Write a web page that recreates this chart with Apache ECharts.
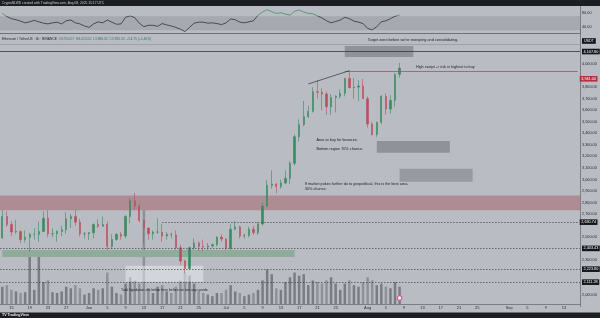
<!DOCTYPE html>
<html><head><meta charset="utf-8">
<script src="https://cdn.jsdelivr.net/npm/echarts@6/dist/echarts.min.js"></script>
<style>html,body{margin:0;padding:0;background:#b9bcc2}#c{width:600px;height:318px}</style>
</head><body><div id="c"></div><script>
// ---- data (daily candles) ----
const firstDay = [2025, 4, 13];   // 13 May 2025
const visibleDays = 127;          // time scale runs on to mid September
const open  = [2495,2680,2610,2545,2550,2480,2500,2525,2525,2550,2665,2530,2530,2550,2565,2660,2680,2630,2530,2530,2540,2610,2595,2610,2420,2480,2525,2510,2680,2815,2770,2645,2580,2530,2545,2545,2510,2525,2520,2410,2295,2230,2410,2450,2420,2415,2425,2435,2500,2485,2405,2570,2590,2510,2515,2570,2540,2615,2770,2950,2960,2940,2970,3010,3140,3370,3475,3545,3590,3760,3755,3740,3630,3710,3720,3745,3875,3795,3800,3810,3700,3480,3390,3495,3720,3610,3685,3910];
const high  = [2738,2725,2640,2650,2560,2560,2540,2580,2635,2725,2735,2575,2560,2600,2715,2700,2740,2660,2545,2545,2620,2655,2680,2635,2525,2535,2545,2690,2840,2885,2790,2650,2585,2560,2665,2615,2545,2540,2560,2435,2305,2420,2490,2465,2480,2450,2445,2510,2525,2490,2615,2640,2600,2530,2590,2600,2630,2800,2995,3080,2970,3000,3080,3160,3390,3520,3680,3640,3800,3860,3790,3760,3740,3730,3780,3880,3941,3880,3860,3870,3720,3500,3500,3730,3745,3730,3920,4010];
const low   = [2485,2590,2510,2530,2450,2455,2375,2480,2460,2545,2500,2500,2460,2510,2530,2580,2600,2505,2490,2475,2490,2580,2590,2390,2400,2470,2480,2490,2620,2740,2630,2440,2480,2480,2530,2460,2480,2490,2390,2260,2190,2220,2390,2380,2380,2390,2410,2420,2460,2390,2390,2560,2490,2490,2500,2520,2520,2600,2760,2920,2880,2920,2960,2960,3120,3330,3460,3530,3580,3700,3600,3560,3560,3580,3700,3720,3790,3700,3680,3700,3450,3380,3370,3480,3560,3570,3630,3880];
const close = [2680,2610,2545,2550,2480,2500,2525,2525,2550,2665,2530,2530,2550,2565,2660,2680,2630,2530,2530,2540,2610,2595,2610,2420,2480,2525,2510,2680,2815,2770,2645,2580,2530,2545,2545,2510,2525,2520,2410,2295,2230,2410,2450,2420,2415,2425,2435,2500,2485,2405,2570,2590,2510,2515,2570,2540,2615,2770,2950,2960,2940,2970,3010,3140,3370,3475,3545,3590,3760,3755,3740,3630,3710,3720,3745,3875,3795,3800,3810,3700,3480,3390,3495,3720,3610,3685,3910,3965];
const volume = [550,600,450,400,350,375,1600,450,1500,700,750,375,350,400,550,500,600,500,300,350,500,450,500,1000,550,350,300,650,850,750,650,3300,500,350,550,600,400,350,550,750,1000,900,650,400,350,300,250,350,350,450,600,400,350,250,300,350,450,750,1100,950,500,450,700,850,1000,900,950,600,750,700,650,750,850,650,450,650,750,600,550,700,850,750,600,650,550,500,700,550];
const rsi = [78,69,63,60,56,51,54,58,54,50,48,51,53,48,57,59,51,48,42,38,48,54,51,59,53,47,48,67,71,66,50,40,44,44,41,49,45,42,38,33,26,38,50,53,53,50,51,49,46,51,62,60,53,51,54,57,73,82,89,83,78,80,76,73,84,88,82,78,77,71,65,57,51,55,59,67,63,56,53,49,35,31,40,54,57,63,70,73];
const timeTicks = [['2025-05-15','15'],['2025-05-19','19'],['2025-05-23','23'],['2025-05-27','27'],
 ['2025-06-01','Jun'],['2025-06-05','5'],['2025-06-09','9'],['2025-06-13','13'],['2025-06-17','17'],['2025-06-21','21'],['2025-06-25','25'],
 ['2025-07-01','Jul'],['2025-07-05','5'],['2025-07-09','9'],['2025-07-13','13'],['2025-07-17','17'],['2025-07-21','21'],['2025-07-25','25'],
 ['2025-08-01','Aug'],['2025-08-05','5'],['2025-08-09','9'],['2025-08-13','13'],['2025-08-17','17'],['2025-08-21','21'],['2025-08-25','25'],
 ['2025-09-01','Sep'],['2025-09-05','5'],['2025-09-09','9'],['2025-09-13','13']];
const priceTicks = [2000,2300,2500,2700,2800,2900,3000,3100,3200,3300,3400,3500,3600,3700,3800,4000];
const rsiTicks = [80,40];
const levels = {target:4107.80, upper:4175, swept:3941.00, last:3965.32, l1:2630.74, l2:2403.43, l3:2223.80, l4:2111.28};

// ---- build ----
const dates = [];
for (let i = 0; i < visibleDays; i++) {
  const d = new Date(Date.UTC(firstDay[0], firstDay[1], firstDay[2] + i));
  dates.push(d.toISOString().slice(0, 10));
}
const tickMap = {}; timeTicks.forEach(t => tickMap[t[0]] = t[1]);
const candles = open.map((o, i) => [o, close[i], low[i], high[i]]);
const fmt = v => v.toLocaleString('en-US', {minimumFractionDigits: 2, maximumFractionDigits: 2});
const FONT = 'Liberation Sans';
const box = (txt, bg, extra) => Object.assign({show: true, position: 'end', distance: 2, formatter: txt,
  color: '#fff', backgroundColor: bg || '#141518', fontSize: 3.8, padding: [1, 1.5, 0.6, 1.5], fontFamily: FONT}, extra || {});
const dotted = {color: '#3f4247', width: 0.7, type: [1.5, 1.5]};

// RSI pane geometry (used for the overbought colouring of the line)
const rsiTop = 5.7, rsiH = 28, rsiMin = 20, rsiMax = 100;
const obStop = (rsiMax - 70) / (rsiMax - rsiMin);
const rsiColor = {type: 'linear', x: 0, y: rsiTop, x2: 0, y2: rsiTop + rsiH, global: true,
  colorStops: [{offset: 0, color: '#3b9162'}, {offset: obStop, color: '#3b9162'}, {offset: obStop, color: '#2f3236'}, {offset: 1, color: '#2f3236'}]};

const chart = echarts.init(document.getElementById('c'), null, {renderer: 'canvas', width: 600, height: 318});
const gridBase = {left: 0, right: 20, containLabel: false, outerBoundsMode: 'none'};
chart.setOption({
  animation: false,
  backgroundColor: '#b9bcc2',
  textStyle: {fontFamily: FONT},
  grid: [
    Object.assign({top: rsiTop, height: rsiH}, gridBase),
    Object.assign({top: 29.35, height: 277.2}, gridBase),
    Object.assign({top: 194, bottom: 14}, gridBase)
  ],
  xAxis: [
    {type: 'category', gridIndex: 0, data: dates, axisLine: {lineStyle: {color: '#5d6066', width: 0.8}}, axisTick: {show: false}, axisLabel: {show: false}},
    {type: 'category', gridIndex: 1, data: dates, show: false},
    {type: 'category', gridIndex: 2, data: dates, axisLine: {lineStyle: {color: '#6b6e74', width: 0.8}}, axisTick: {show: false},
     axisLabel: {interval: (i, v) => tickMap[v] !== undefined, formatter: v => tickMap[v] || '', fontSize: 4, color: '#2d2f33', margin: 1.5}}
  ],
  yAxis: [
    {type: 'value', gridIndex: 0, position: 'right', min: rsiMin, max: rsiMax, interval: 20, splitLine: {show: false},
     axisLine: {show: true, lineStyle: {color: '#6b6e74', width: 0.8}}, axisTick: {show: false},
     axisLabel: {formatter: v => rsiTicks.includes(v) ? fmt(v) : '', fontSize: 3.8, color: '#2b2d31', margin: 2}},
    {type: 'value', gridIndex: 1, position: 'right', min: 1900, max: 4300, interval: 100, splitLine: {show: false},
     axisLine: {show: true, lineStyle: {color: '#6b6e74', width: 0.8}}, axisTick: {show: false},
     axisLabel: {formatter: v => priceTicks.includes(v) ? fmt(v) : '', fontSize: 3.8, color: '#2b2d31', margin: 2}},
    {type: 'value', gridIndex: 2, min: 0, max: 3500, show: false}
  ],
  series: [
    {type: 'line', xAxisIndex: 0, yAxisIndex: 0, data: rsi, symbol: 'none', lineStyle: {width: 0.8, color: rsiColor},
     markArea: {silent: true, itemStyle: {color: '#a6a9af'}, data: [[{yAxis: 30}, {yAxis: 70}]]}},
    {type: 'candlestick', xAxisIndex: 1, yAxisIndex: 1, data: candles, z: 2, barWidth: 1.8,
     itemStyle: {color: '#3a8a62', color0: '#b8505c', borderColor: '#3a8a62', borderColor0: '#b8505c', borderWidth: 0.6},
     markArea: {silent: true, data: [
       [{yAxis: 2733, itemStyle: {color: '#ad8c94'}}, {yAxis: 2862}],
       [{xAxis: dates[0], yAxis: 2330, itemStyle: {color: '#8fac9b'}}, {xAxis: dates[64], yAxis: 2390}],
       [{xAxis: dates[75], yAxis: 4060, itemStyle: {color: '#8f9298'}}, {xAxis: dates[90], yAxis: 4155}],
       [{xAxis: dates[82], yAxis: 3231, itemStyle: {color: '#8f9298'}}, {xAxis: dates[98], yAxis: 3334}],
       [{xAxis: dates[87], yAxis: 2980, itemStyle: {color: '#989a9f'}}, {xAxis: dates[103], yAxis: 3093}],
       [{xAxis: dates[27], yAxis: 2115, itemStyle: {color: 'rgba(236,238,241,0.5)'}}, {xAxis: dates[44], yAxis: 2254}]
     ]},
     markLine: {silent: true, symbol: 'none', animation: false, data: [
       {yAxis: levels.upper, lineStyle: {color: '#8b8e94', width: 0.6, type: 'solid'}, label: {show: false}},
       {yAxis: levels.target, lineStyle: {color: '#34363a', width: 0.8, type: 'solid'}, label: box(fmt(levels.target))},
       [{coord: [dates[75], levels.swept], lineStyle: {color: '#94596a', width: 0.8, type: 'solid'},
         label: box(fmt(levels.swept), '#b3303e', {offset: [0, 8]})}, {coord: [dates[126], levels.swept]}],
       {yAxis: levels.last, lineStyle: {opacity: 0}, label: box(fmt(levels.last) + '\n02:42:53', '#141518', {lineHeight: 4.2, offset: [0, 2]})},
       [{coord: [dates[35], levels.l1], lineStyle: dotted, label: box(fmt(levels.l1))}, {coord: [dates[126], levels.l1]}],
       {yAxis: levels.l2, lineStyle: dotted, label: box(fmt(levels.l2))},
       {yAxis: levels.l3, lineStyle: dotted, label: box(fmt(levels.l3))},
       {yAxis: levels.l4, lineStyle: dotted, label: box(fmt(levels.l4))},
       [{coord: [dates[67], 3827], lineStyle: {color: '#2e3034', width: 0.7, type: 'solid'}, label: {show: false}}, {coord: [dates[76], 3942]}]
     ]},
     markPoint: {silent: true, symbol: 'rect', symbolSize: 0.1, itemStyle: {color: 'rgba(0,0,0,0)'},
       label: {show: true, position: 'right', distance: 0, formatter: '{b}', color: '#1f2024', fontSize: 3.8, lineHeight: 5, fontFamily: FONT},
       data: [
         {name: "Target zone before we're sweeping and consolidating.", coord: [dates[80], 4207]},
         {name: 'High swept -> risk is highest to buy', coord: [dates[91], 3974], label: {offset: [-2, 0]}},
         {name: 'Area to buy for bounces.', coord: [dates[69], 3343], label: {offset: [-1, 0]}},
         {name: 'Bottom region 70% chance.', coord: [dates[69], 3265], label: {offset: [-1, 0]}},
         {name: 'If market pukes further do to geopolitical, this is the best area.\n30% chance.', coord: [dates[66], 2942], label: {offset: [1, 0]}},
         {name: 'Total liquidation sits below here before we see any upside.', coord: [dates[26], 2047], label: {fontSize: 3.4}}
       ]}},
    {type: 'bar', xAxisIndex: 2, yAxisIndex: 2, data: volume, z: 0.5, barWidth: '55%',
     itemStyle: {color: p => close[p.dataIndex] >= open[p.dataIndex] ? 'rgba(100,104,110,0.75)' : 'rgba(128,132,138,0.75)'},
     markPoint: {silent: true, data: [{coord: [dates[87], 0], symbol: 'circle', symbolSize: 4.5, symbolOffset: [0, -6],
       itemStyle: {color: '#f3f3f5', borderColor: '#d35fa4', borderWidth: 1.2}, label: {show: false}}]}}
  ],
  graphic: [
    {type: 'rect', shape: {x: 0, y: 0, width: 600, height: 6}, style: {fill: '#1d1e22'}, z: 10},
    {type: 'text', x: 2, y: 3, z: 11, style: {text: 'CryptoNLWD created with TradingView.com, Aug 08, 2025 15:17 UTC', fill: '#c9cbd0', fontSize: 3.3, verticalAlign: 'middle', fontFamily: FONT}},
    {type: 'rect', shape: {x: 0, y: 312.5, width: 600, height: 5.5}, style: {fill: '#1d1e22'}, z: 10},
    {type: 'text', x: 2, y: 315.3, z: 11, style: {text: 'TV TradingView', fill: '#e8e8ea', fontSize: 3.6, fontWeight: 'bold', verticalAlign: 'middle', fontFamily: FONT}},
    {type: 'text', x: 582, y: 41, z: 11, style: {text: 'USDT', fill: '#fff', backgroundColor: '#141518', padding: [1, 2, 0.6, 2], fontSize: 3.6, verticalAlign: 'middle', fontFamily: FONT}},
    {type: 'text', x: 2, y: 39, z: 11, style: {
      text: '{n|Ethereum / TetherUS · 4h · BINANCE}  {g|O3,910.57}  {g|H4,012.00}  {g|L3,886.32}  {g|C3,965.32}  {g|+54.75 (+1.40%)}',
      verticalAlign: 'middle', fontSize: 3.3, fontFamily: FONT,
      rich: {n: {fill: '#25272b', fontSize: 3.3}, g: {fill: '#2f7d55', fontSize: 3.3}}}}
  ]
});
</script></body></html>
